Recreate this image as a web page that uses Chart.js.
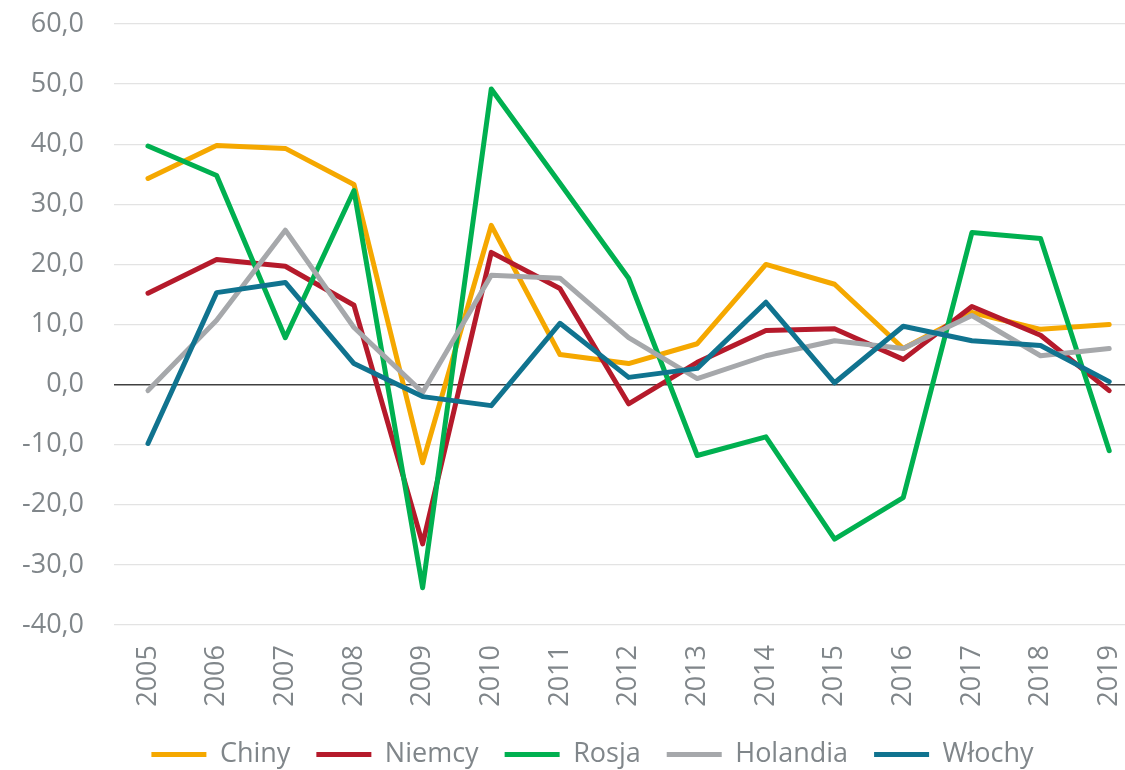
<!DOCTYPE html>
<html>
<head>
<meta charset="utf-8">
<script src="https://cdn.jsdelivr.net/npm/chart.js@4/dist/chart.umd.min.js"></script>
<style>
  html, body { margin: 0; padding: 0; background: #fff; }
  #wrap { width: 1125px; height: 770px; }
</style>
</head>
<body>
<div id="wrap"><canvas id="wykres" width="1125" height="770"></canvas></div>
<script>
var lata = [2005, 2006, 2007, 2008, 2009, 2010, 2011, 2012, 2013, 2014, 2015, 2016, 2017, 2018, 2019];

var chiny    = [34.3, 39.8, 39.3, 33.3, -13.0, 26.5, 5.0, 3.5, 6.8, 20.0, 16.7, 6.0, 12.0, 9.2, 10.0];
var niemcy   = [15.2, 20.8, 19.7, 13.2, -26.5, 22.0, 16.0, -3.2, 3.7, 9.0, 9.3, 4.2, 13.0, 8.2, -1.0];
var rosja    = [39.7, 34.8, 7.8, 32.3, -33.8, 49.2, 33.5, 17.7, -11.8, -8.7, -25.7, -18.8, 25.3, 24.3, -11.0];
var holandia = [-1.0, 10.7, 25.7, 9.5, -1.3, 18.2, 17.7, 7.8, 1.0, 4.8, 7.3, 6.0, 11.5, 4.8, 6.0];
var wlochy   = [-9.8, 15.3, 17.0, 3.5, -2.0, -3.5, 10.2, 1.2, 2.7, 13.7, 0.3, 9.7, 7.3, 6.5, 0.5];

var nazwy  = ["Chiny", "Niemcy", "Rosja", "Holandia", "Włochy"];
var serie  = [chiny, niemcy, rosja, holandia, wlochy];
var kolory = ["#F5A800", "#B51A2B", "#00B050", "#A6A8AB", "#10738F"];

var szary = "#80868A";
var czcionka = "'Open Sans', 'DejaVu Sans', sans-serif";

function punkty(wartosci) {
  return lata.map(function(rok, i) { return { x: rok, y: wartosci[i] }; });
}

var zestawy = serie.map(function(s, i) {
  return {
    label: nazwy[i],
    data: punkty(s),
    borderColor: kolory[i],
    backgroundColor: kolory[i],
    borderWidth: 5,
    borderCapStyle: 'round',
    borderJoinStyle: 'round',
    pointRadius: 0,
    pointHoverRadius: 0,
    tension: 0,
    fill: false,
    order: serie.length - 1 - i
  };
});

// legenda w oryginale stoi troche na prawo od srodka
var przesunLegende = {
  id: 'przesunLegende',
  afterLayout: function(ch) {
    ch.legend.left += 30;
    ch.legend.right += 30;
  }
};

window.onload = function() {
  var ctx = document.getElementById('wykres').getContext('2d');
  new Chart(ctx, {
    type: 'line',
    data: { datasets: zestawy },
    plugins: [przesunLegende],
    options: {
      responsive: false,
      animation: false,
      layout: { padding: { left: 0, right: 0, top: 24, bottom: -8 } },
      plugins: {
        tooltip: { enabled: false },
        legend: {
          display: true,
          position: 'bottom',
          labels: {
            usePointStyle: true,
            pointStyle: 'line',
            pointStyleWidth: 55,
            boxHeight: 20,
            padding: 26,
            color: szary,
            font: { family: czcionka, size: 27 },
            sort: function(a, b) { return a.datasetIndex - b.datasetIndex; }
          }
        }
      },
      scales: {
        x: {
          type: 'linear',
          min: 2004.505,
          max: 2019.23,
          afterBuildTicks: function(os) {
            os.ticks = lata.map(function(r) { return { value: r }; });
          },
          afterFit: function(os) {
            os.paddingLeft = 0;
            os.paddingRight = 0;
            os.height = 90;
          },
          grid: { display: false, drawTicks: false },
          border: { display: false },
          ticks: {
            autoSkip: false,
            minRotation: 90,
            maxRotation: 90,
            padding: 20,
            color: szary,
            font: { family: czcionka, size: 27 },
            callback: function(v) { return String(v); }
          }
        },
        y: {
          min: -40,
          max: 60,
          afterFit: function(os) {
            os.paddingTop = 0;
            os.paddingBottom = 0;
            os.width = 114;
          },
          ticks: {
            stepSize: 10,
            padding: 30,
            color: szary,
            font: { family: czcionka, size: 27 },
            callback: function(v) { return v.toFixed(1).replace('.', ','); }
          },
          grid: {
            drawTicks: false,
            color: function(c) { return c.tick && c.tick.value === 0 ? '#404040' : '#E3E3E3'; },
            lineWidth: function(c) { return c.tick && c.tick.value === 0 ? 1.5 : 1.3; }
          },
          border: { display: false }
        }
      }
    }
  });
};
</script>
</body>
</html>
